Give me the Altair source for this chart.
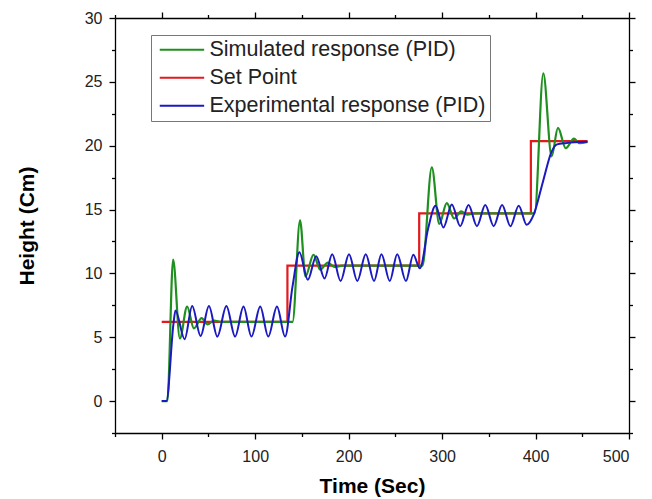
import altair as alt
import pandas as pd

# ---------------- data ----------------
SERIES = ["Simulated response (PID)", "Set Point", "Experimental response (PID)"]
COLORS = ["#1f8f1f", "#e3191c", "#1a1ac0"]

# Set point (step function)
sp_t = [0, 134.5, 275.5, 395, 455.6]
sp_y = [6.2, 10.6, 14.7, 20.35, 20.35]

# Simulated response (PID)
sim_t = [0, 6, 12.2, 19.4, 27.2, 34.4, 42.7, 49, 56, 64,
         140, 148, 153.8, 162.4, 169.5, 177.8, 185, 193,
         279, 289, 297, 305, 313, 320.4, 327, 335,
         399, 408.3, 417.2, 424, 432.3, 441.2, 447, 455.6]
sim_y = [0, 0, 11.07, 4.9, 7.4, 5.7, 6.5, 6.0, 6.3, 6.2,
         6.2, 14.15, 9.76, 11.46, 10.3, 10.85, 10.5, 10.6,
         10.6, 18.3, 13.87, 15.5, 14.3, 14.86, 14.6, 14.7,
         14.7, 25.67, 19.17, 21.4, 19.8, 20.56, 20.2, 20.3]

# Experimental response (PID)
exp_t = [0, 5, 12.5, 14.7, 24.5, 32.6, 41.6, 50.5, 59.5, 69.2, 78.5, 87.5, 96,
         105.4, 114, 123.3, 132, 140, 147.3, 156.3, 165.3, 174.2, 182.4, 191.4,
         200.4, 209.3, 218.3, 227.2, 235.1, 244, 252, 261.3, 269.2, 276.3, 285,
         293, 301.4, 310.4, 319.4, 328.3, 337.3, 346.2, 355.2, 364.2, 373.1, 382,
         390.5, 398, 408, 417, 423, 432, 455.6]
exp_y = [0, 0, 6.0, 7.1, 4.85, 7.45, 5.1, 7.45, 5.05, 7.45, 5.05, 7.4, 5.05,
         7.4, 5.05, 7.4, 5.05, 9.0, 11.65, 9.5, 11.35, 9.6, 11.5, 9.4,
         11.5, 9.4, 11.5, 9.4, 11.5, 9.4, 11.5, 9.4, 11.45, 10.4, 13.5,
         15.3, 13.6, 15.4, 13.7, 15.35, 13.7, 15.35, 13.7, 15.35, 13.7, 15.3,
         13.8, 14.6, 17.2, 19.5, 20.1, 20.2, 20.3]

X_DOMAIN = [-50, 500]
Y_DOMAIN = [-2.5, 30]
x_major = [0, 100, 200, 300, 400, 500]
x_minor = [-50, 50, 150, 250, 350, 450]
y_major = [0, 5, 10, 15, 20, 25, 30]
y_minor = [-2.5, 2.5, 7.5, 12.5, 17.5, 22.5, 27.5]

# ---------------- tables ----------------
df_sp = pd.DataFrame({"t": sp_t, "h": sp_y, "series": SERIES[1]})
df_sim = pd.DataFrame({"t": sim_t, "h": sim_y, "series": SERIES[0]})
df_exp = pd.DataFrame({"t": exp_t, "h": exp_y, "series": SERIES[2]})

FONT = "Liberation Sans"
xs = alt.Scale(domain=X_DOMAIN, nice=False, zero=False)
ys = alt.Scale(domain=Y_DOMAIN, nice=False, zero=False)

common = dict(grid=False, domainColor="black", tickColor="black",
              domainWidth=1.3, tickWidth=1.3, labelFont=FONT, titleFont=FONT)

ax_bottom = alt.Axis(orient="bottom", values=x_major, tickSize=6, labelFontSize=16,
                     labelPadding=9, labelColor="#222", format="d",
                     title="Time (Sec)", titleFontSize=21, titleFontWeight="bold",
                     titleColor="black", titlePadding=11, **common)
ax_left = alt.Axis(orient="left", values=y_major, tickSize=6, labelFontSize=16,
                   labelPadding=7, labelColor="#222", format="d",
                   title="Height (Cm)", titleFontSize=21, titleFontWeight="bold",
                   titleColor="black", titlePadding=47, **common)
ax_bottom_min = alt.Axis(orient="bottom", values=x_minor, tickSize=3.5, labels=False,
                         domain=False, title=None, **common)
ax_left_min = alt.Axis(orient="left", values=y_minor, tickSize=3.5, labels=False,
                       domain=False, title=None, **common)
ax_top = alt.Axis(orient="top", values=x_major, tickSize=6, labels=False, title=None, **common)
ax_right = alt.Axis(orient="right", values=y_major, tickSize=6, labels=False, title=None, **common)
ax_top_min = alt.Axis(orient="top", values=x_minor, tickSize=3.5, labels=False,
                      domain=False, title=None, **common)
ax_right_min = alt.Axis(orient="right", values=y_minor, tickSize=3.5, labels=False,
                        domain=False, title=None, **common)

color = alt.Color(
    "series:N",
    scale=alt.Scale(domain=SERIES, range=COLORS),
    legend=alt.Legend(
        title=None, orient="none", legendX=36, legendY=17,
        fillColor="white", strokeColor="#777", padding=4,
        labelFont=FONT, labelFontSize=21.5, labelColor="#222", labelLimit=500,
        symbolType="M-1,0L6.4,0", symbolSize=144, symbolStrokeWidth=2,
        labelOffset=33, rowPadding=5,
    ),
)

red = alt.Chart(df_sp).mark_line(interpolate="step-after", strokeWidth=2.2).encode(
    x=alt.X("t:Q", scale=xs, axis=ax_bottom),
    y=alt.Y("h:Q", scale=ys, axis=ax_left),
    color=color,
)
green = alt.Chart(df_sim).mark_line(interpolate="monotone", strokeWidth=2.2).encode(
    x=alt.X("t:Q", scale=xs, axis=None),
    y=alt.Y("h:Q", scale=ys, axis=None),
    color=color,
)
blue = alt.Chart(df_exp).mark_line(interpolate="monotone", strokeWidth=2).encode(
    x=alt.X("t:Q", scale=xs, axis=None),
    y=alt.Y("h:Q", scale=ys, axis=None),
    color=color,
)

def guide_layer(xa, ya):
    return alt.Chart(df_sp).mark_line(opacity=0).encode(
        x=alt.X("t:Q", scale=xs, axis=xa),
        y=alt.Y("h:Q", scale=ys, axis=ya),
    )

chart = alt.layer(
    red, green, blue,
    guide_layer(ax_bottom_min, ax_left_min),
    guide_layer(ax_top, ax_right),
    guide_layer(ax_top_min, ax_right_min),
).resolve_axis(x="independent", y="independent").properties(
    width=514, height=415,
    autosize=alt.AutoSizeParams(type="none"),
    padding={"left": 115, "top": 18, "right": 23, "bottom": 66},
    background="white",
).configure_view(stroke=None)

chart.save("out.html", embed_options={"renderer": "svg", "actions": False})
